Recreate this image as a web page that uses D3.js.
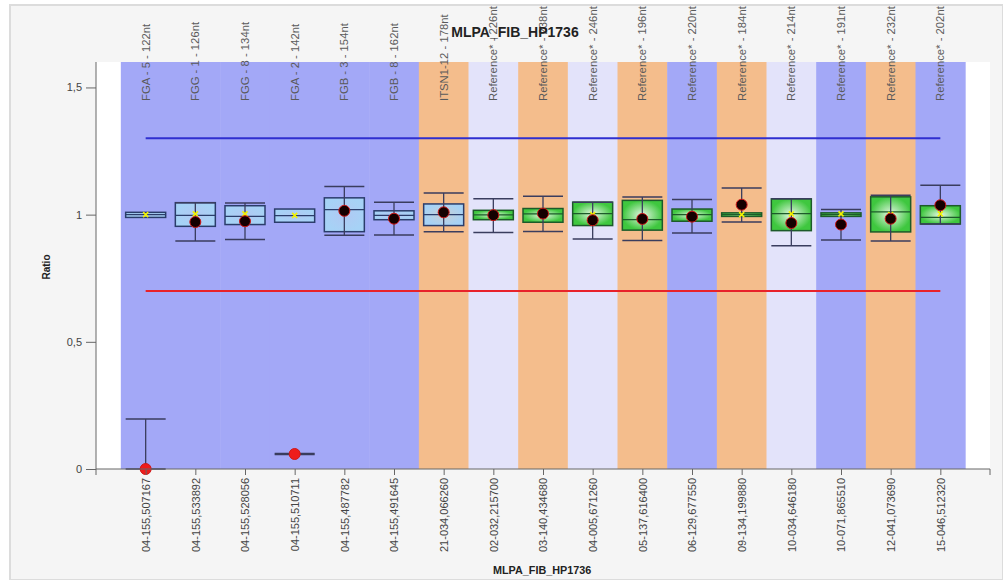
<!DOCTYPE html>
<html>
<head>
<meta charset="utf-8">
<script src="https://cdn.jsdelivr.net/npm/d3@7"></script>
<style>
  body { margin: 0; background: #fff; }
  svg { display: block; font-family: "Liberation Sans", Arial, sans-serif; }
</style>
</head>
<body>
<div id="chart"></div>
<script>
// x categories (bottom) and probe names (top)
var positions = ["04-155,507167", "04-155,533892", "04-155,528056", "04-155,510711", "04-155,487782", "04-155,491645",
  "21-034,066260", "02-032,215700", "03-140,434680", "04-005,671260", "05-137,616400", "06-129,677550",
  "09-134,199880", "10-034,646180", "10-071,865510", "12-041,073690", "15-046,512320"];
var probes = ["FGA - 5 - 122nt", "FGG - 1 - 126nt", "FGG - 8 - 134nt", "FGA - 2 - 142nt", "FGB - 3 - 154nt", "FGB - 8 - 162nt",
  "ITSN1-12 - 178nt", "Reference* - 226nt", "Reference* - 238nt", "Reference* - 246nt", "Reference* - 196nt", "Reference* - 220nt",
  "Reference* - 184nt", "Reference* - 214nt", "Reference* - 191nt", "Reference* - 232nt", "Reference* - 202nt"];
var bandType = ["target", "target", "target", "target", "target", "target",
  "orange", "light", "orange", "light", "orange", "target", "orange", "light", "target", "orange", "target"];
var boxType = ["blue", "blue", "blue", "blue", "blue", "blue", "blue",
  "green", "green", "green", "green", "green", "green", "green", "green", "green", "green"];

// reference distribution boxes
var boxLo  = [0.989, 0.954, 0.961, 0.970, 0.933, 0.980, 0.957, 0.980, 0.970, 0.957, 0.939, 0.974, 0.993, 0.937, 0.993, 0.932, 0.963];
var boxMid = [1.000, 0.997, 0.993, 0.996, 1.020, 0.997, 1.000, 0.999, 1.003, 1.004, 0.980, 1.000, 1.000, 1.004, 1.000, 1.011, 0.989];
var boxHi  = [1.009, 1.047, 1.035, 1.022, 1.066, 1.015, 1.042, 1.017, 1.024, 1.049, 1.056, 1.022, 1.007, 1.062, 1.007, 1.070, 1.035];
var refMark = [1.000, 1.003, 1.003, 0.997, 1.015, 0.990, 1.005, 1.000, 1.000, 1.000, 0.990, 1.000, 1.000, 1.003, 1.003, 1.000, 1.003];

// sample ratio with confidence range
var sample = [0.000, 0.971, 0.974, 0.059, 1.015, 0.984, 1.009, 0.998, 1.004, 0.978, 0.983, 0.992, 1.039, 0.967, 0.961, 0.984, 1.037];
var ciLo   = [0.000, 0.896, 0.902, 0.057, 0.919, 0.920, 0.933, 0.930, 0.934, 0.904, 0.898, 0.928, 0.971, 0.878, 0.900, 0.896, 0.963];
var ciHi   = [0.197, 1.047, 1.046, 0.061, 1.111, 1.049, 1.085, 1.062, 1.072, 1.049, 1.069, 1.059, 1.105, 1.062, 1.020, 1.076, 1.115];

var upperLimit = 1.3, lowerLimit = 0.7;
var yTicks = [0, 0.5, 1, 1.5];

var W = 1003, H = 580;
var pLeft = 96, pRight = 990, pTop = 62, pBottom = 469;

var bandColors = { target: "#a3a8f7", orange: "#f4bd8c", light: "#e3e3fa" };

var x = d3.scalePoint().domain(d3.range(positions.length)).range([pLeft, pRight]).padding(1);
var step = x.step();
var y = d3.scaleLinear().domain([0, 1.6]).range([pBottom, pTop]);

var svg = d3.select("#chart").append("svg").attr("width", W).attr("height", H);

var defs = svg.append("defs");
var gG = defs.append("radialGradient").attr("id", "gGreen");
gG.append("stop").attr("offset", "0%").attr("stop-color", "#e6f7e6");
gG.append("stop").attr("offset", "100%").attr("stop-color", "#3fc73f");
var gB = defs.append("radialGradient").attr("id", "gBlue");
gB.append("stop").attr("offset", "0%").attr("stop-color", "#b4d6f2").attr("stop-opacity", 0.7);
gB.append("stop").attr("offset", "100%").attr("stop-color", "#a6d2f6");

// panel background
svg.append("rect").attr("x", 10).attr("y", 5).attr("width", W - 10).attr("height", H - 5)
  .attr("fill", "#f5f5f5").attr("stroke", "#dcdcdc").attr("stroke-width", 2);
svg.append("rect").attr("x", pLeft).attr("y", pTop).attr("width", pRight - pLeft).attr("height", pBottom - pTop)
  .attr("fill", "#ffffff");

// coloured bands
svg.append("g").selectAll("rect").data(positions).enter().append("rect")
  .attr("x", function(d, i) { return x(i) - step / 2; })
  .attr("y", pTop)
  .attr("width", step + 0.5)
  .attr("height", pBottom - pTop)
  .attr("fill", function(d, i) { return bandColors[bandType[i]]; });

// threshold lines
var x0 = x(0), x1 = x(positions.length - 1);
svg.append("line").attr("x1", x0).attr("x2", x1).attr("y1", y(upperLimit)).attr("y2", y(upperLimit))
  .attr("stroke", "#2f2fd0").attr("stroke-width", 2);
svg.append("line").attr("x1", x0).attr("x2", x1).attr("y1", y(lowerLimit)).attr("y2", y(lowerLimit))
  .attr("stroke", "#e8222a").attr("stroke-width", 2);

var bw = 40;
var g = svg.append("g").selectAll("g").data(positions).enter().append("g");

// boxes
g.append("rect")
  .attr("x", function(d, i) { return x(i) - bw / 2; })
  .attr("y", function(d, i) { return y(boxHi[i]); })
  .attr("width", bw)
  .attr("height", function(d, i) { return y(boxLo[i]) - y(boxHi[i]); })
  .attr("fill", function(d, i) { return boxType[i] == "green" ? "url(#gGreen)" : "url(#gBlue)"; })
  .attr("stroke", function(d, i) { return boxType[i] == "green" ? "#1d5a2a" : "#2b3d6b"; })
  .attr("stroke-width", 1.5);

g.append("line")
  .attr("x1", function(d, i) { return x(i) - bw / 2; })
  .attr("x2", function(d, i) { return x(i) + bw / 2; })
  .attr("y1", function(d, i) { return y(boxMid[i]); })
  .attr("y2", function(d, i) { return y(boxMid[i]); })
  .attr("stroke", function(d, i) { return boxType[i] == "green" ? "#1d5a2a" : "#2b3d6b"; })
  .attr("stroke-width", 1.2);

// sample range + caps
var wc = "#3a3d5e";
g.append("line")
  .attr("x1", function(d, i) { return x(i); }).attr("x2", function(d, i) { return x(i); })
  .attr("y1", function(d, i) { return y(ciLo[i]); }).attr("y2", function(d, i) { return y(ciHi[i]); })
  .attr("stroke", wc).attr("stroke-width", 1.3);
g.append("line")
  .attr("x1", function(d, i) { return x(i) - bw / 2; }).attr("x2", function(d, i) { return x(i) + bw / 2; })
  .attr("y1", function(d, i) { return y(ciHi[i]); }).attr("y2", function(d, i) { return y(ciHi[i]); })
  .attr("stroke", wc).attr("stroke-width", 1.5);
g.append("line")
  .attr("x1", function(d, i) { return x(i) - bw / 2; }).attr("x2", function(d, i) { return x(i) + bw / 2; })
  .attr("y1", function(d, i) { return y(ciLo[i]); }).attr("y2", function(d, i) { return y(ciLo[i]); })
  .attr("stroke", wc).attr("stroke-width", 1.5);

// yellow reference marks
g.append("path")
  .attr("transform", function(d, i) { return "translate(" + x(i) + "," + y(refMark[i]) + ")"; })
  .attr("d", "M-2.5,-2.5L2.5,2.5M-2.5,2.5L2.5,-2.5")
  .attr("stroke", "#f2f200").attr("stroke-width", 1.6);

// sample dots
g.append("circle")
  .attr("cx", function(d, i) { return x(i); })
  .attr("cy", function(d, i) { return y(sample[i]); })
  .attr("r", 5.5)
  .attr("fill", function(d, i) { return (sample[i] < lowerLimit || sample[i] > upperLimit) ? "#ee1c1c" : "#140000"; })
  .attr("stroke", "#d01818").attr("stroke-width", 1);

// axes
var yAxis = d3.axisLeft(y).tickValues(yTicks).tickSize(10).tickPadding(4)
  .tickFormat(function(d) { return d3.format("")(d).replace(".", ","); });
var ya = svg.append("g").attr("transform", "translate(" + pLeft + ",0)").call(yAxis);
ya.select(".domain").attr("stroke", "#666").attr("d", "M0," + pTop + "V" + pBottom);
ya.selectAll(".tick line").attr("stroke", "#666");
ya.selectAll("text").attr("fill", "#444").style("font-size", "11px");

var xAxis = d3.axisBottom(x).tickSize(6).tickFormat(function(d) { return positions[d]; });
var xa = svg.append("g").attr("transform", "translate(0," + pBottom + ")").call(xAxis);
xa.select(".domain").attr("stroke", "#666").attr("d", "M" + pLeft + ",0H" + pRight);
xa.selectAll(".tick line").attr("stroke", "#666");
xa.selectAll("text").attr("fill", "#444").style("font-size", "11px")
  .attr("transform", "rotate(-90)").attr("text-anchor", "end")
  .attr("x", -9).attr("y", 0).attr("dy", "0.35em");
// end ticks
[pLeft, pRight].forEach(function(px) {
  xa.append("line").attr("x1", px).attr("x2", px).attr("y1", 0).attr("y2", 6).attr("stroke", "#666");
});

// probe names on top
svg.append("g").selectAll("text").data(probes).enter().append("text")
  .attr("transform", function(d, i) { return "translate(" + x(i) + ",101) rotate(-90)"; })
  .attr("dy", "0.35em")
  .attr("fill", "#5a5a5a")
  .style("font-size", "11.3px")
  .text(function(d) { return d; });

// titles
svg.append("text").attr("x", 515).attr("y", 37).attr("text-anchor", "middle")
  .style("font-size", "14px").style("font-weight", "bold").attr("fill", "#222")
  .text("MLPA_FIB_HP1736");
svg.append("text").attr("x", 493).attr("y", 574)
  .style("font-size", "10.8px").style("font-weight", "bold").attr("fill", "#222")
  .text("MLPA_FIB_HP1736");
svg.append("text").attr("transform", "translate(50,267) rotate(-90)").attr("text-anchor", "middle")
  .style("font-size", "10px").style("font-weight", "bold").attr("fill", "#222")
  .text("Ratio");
</script>
</body>
</html>
